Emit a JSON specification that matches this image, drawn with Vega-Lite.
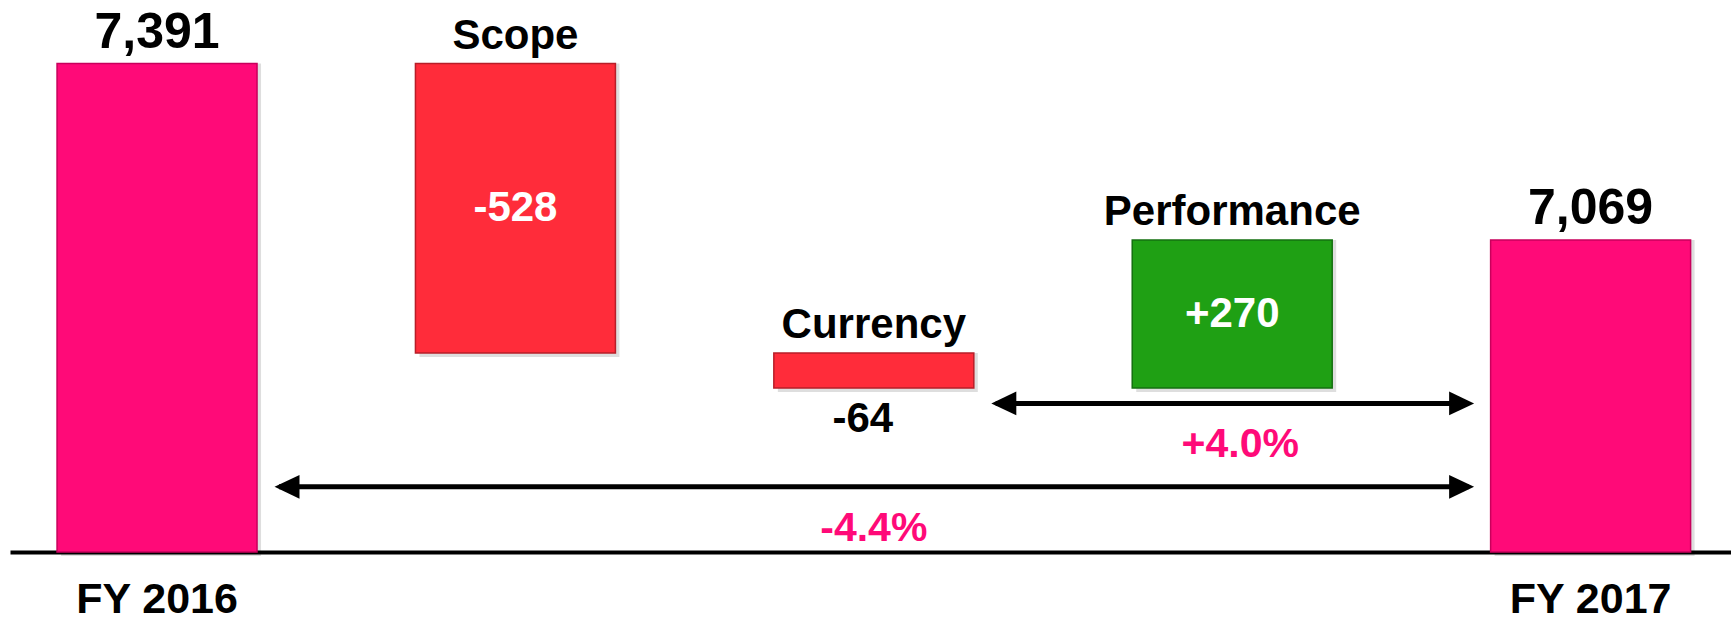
{
  "$schema": "https://vega.github.io/schema/vega-lite/v6.json",
  "width": 1731,
  "height": 552,
  "autosize": "none",
  "padding": {"left": 0, "top": 0, "right": 0, "bottom": 68},
  "background": "white",
  "config": {
    "view": {"stroke": null},
    "font": "Liberation Sans",
    "axisX": {"title": null, "ticks": false, "tickSize": 0, "domainColor": "#000000", "domainWidth": 4, "labelAngle": 0,
      "labelFont": "Liberation Sans", "labelFontSize": 43, "labelFontWeight": "bold", "labelColor": "#000000", "labelPadding": 26, "grid": false}
  },
  "datasets": {
    "bars": [
      {"cat": "FY 2016", "lo": 6500, "hi": 7391, "type": "total", "label": "7,391"},
      {"cat": "Scope", "lo": 6863, "hi": 7391, "type": "neg", "label": "-528"},
      {"cat": "Currency", "lo": 6799, "hi": 6863, "type": "neg", "label": "-64"},
      {"cat": "Performance", "lo": 6799, "hi": 7069, "type": "pos", "label": "+270"},
      {"cat": "FY 2017", "lo": 6500, "hi": 7069, "type": "total", "label": "7,069"}
    ],
    "arrows": [
      {"from": "FY 2016", "to": "FY 2017", "level": 6619},
      {"from": "Currency", "to": "FY 2017", "level": 6771}
    ],
    "pcts": [
      {"cat": "Currency", "pct": "-4.4%", "level": 6520},
      {"cat": "Performance", "pct": "+4.0%", "level": 6673}
    ]
  },
  "layer": [
    {
      "data": {"name": "bars"},
      "mark": {"type": "bar", "color": "#000000", "opacity": 0.13, "xOffset": 4, "yOffset": 4},
      "encoding": {
        "x": {"field": "cat", "type": "nominal", "sort": null, "title": null,
          "scale": {"domain": ["FY 2016", "Scope", "Currency", "Performance", "FY 2017"], "range": [10, 1731], "paddingInner": 0.442, "paddingOuter": 0.122, "align": 0.538},
          "axis": {"labelExpr": "indexof(['FY 2016','FY 2017'], datum.value) >= 0 ? datum.label : ''"}},
        "y": {"field": "lo", "type": "quantitative", "scale": {"domain": [6500, 7507], "zero": false, "nice": false}, "axis": null},
        "y2": {"field": "hi"}
      }
    },
    {
      "data": {"name": "bars"},
      "mark": {"type": "bar", "strokeWidth": 1.5},
      "encoding": {
        "x": {"field": "cat", "type": "nominal", "sort": null, "title": null, "axis": {"labelExpr": "indexof(['FY 2016','FY 2017'], datum.value) >= 0 ? datum.label : ''"}},
        "y": {"field": "lo", "type": "quantitative", "axis": null},
        "y2": {"field": "hi"},
        "color": {"field": "type", "type": "nominal", "legend": null,
          "scale": {"domain": ["total", "neg", "pos"], "range": ["#FF0A78", "#FF2C3A", "#1FA014"]}},
        "stroke": {"field": "type", "type": "nominal", "legend": null,
          "scale": {"domain": ["total", "neg", "pos"], "range": ["#C8005C", "#B81E28", "#147010"]}}
      }
    },
    {
      "data": {"name": "bars"},
      "transform": [{"filter": "datum.type == 'total'"}],
      "mark": {"type": "text", "font": "Liberation Sans", "fontWeight": "bold", "fontSize": 50, "baseline": "alphabetic", "dy": -16, "color": "#000000"},
      "encoding": {
        "x": {"field": "cat", "type": "nominal", "sort": null, "title": null, "axis": {"labelExpr": "indexof(['FY 2016','FY 2017'], datum.value) >= 0 ? datum.label : ''"}},
        "y": {"field": "hi", "type": "quantitative", "axis": null},
        "text": {"field": "label"}
      }
    },
    {
      "data": {"name": "bars"},
      "transform": [{"filter": "datum.type != 'total'"}],
      "mark": {"type": "text", "font": "Liberation Sans", "fontWeight": "bold", "fontSize": 42, "baseline": "alphabetic", "dy": -15, "color": "#000000"},
      "encoding": {
        "x": {"field": "cat", "type": "nominal", "sort": null, "title": null, "axis": {"labelExpr": "indexof(['FY 2016','FY 2017'], datum.value) >= 0 ? datum.label : ''"}},
        "y": {"field": "hi", "type": "quantitative", "axis": null},
        "text": {"field": "cat"}
      }
    },
    {
      "data": {"name": "bars"},
      "transform": [{"filter": "datum.cat == 'Scope' || datum.cat == 'Performance'"}, {"calculate": "(datum.lo + datum.hi) / 2", "as": "mid"}],
      "mark": {"type": "text", "font": "Liberation Sans", "fontWeight": "bold", "fontSize": 42, "baseline": "middle", "color": "#FFFFFF"},
      "encoding": {
        "x": {"field": "cat", "type": "nominal", "sort": null, "title": null, "axis": {"labelExpr": "indexof(['FY 2016','FY 2017'], datum.value) >= 0 ? datum.label : ''"}},
        "y": {"field": "mid", "type": "quantitative", "axis": null},
        "text": {"field": "label"}
      }
    },
    {
      "data": {"name": "bars"},
      "transform": [{"filter": "datum.cat == 'Currency'"}],
      "mark": {"type": "text", "font": "Liberation Sans", "fontWeight": "bold", "fontSize": 42, "baseline": "alphabetic", "dy": 44, "dx": -11, "color": "#000000"},
      "encoding": {
        "x": {"field": "cat", "type": "nominal", "sort": null, "title": null, "axis": {"labelExpr": "indexof(['FY 2016','FY 2017'], datum.value) >= 0 ? datum.label : ''"}},
        "y": {"field": "lo", "type": "quantitative", "axis": null},
        "text": {"field": "label"}
      }
    },
    {
      "data": {"name": "arrows"},
      "mark": {"type": "rule", "strokeWidth": 5, "color": "#000000", "xOffset": 22, "x2Offset": -22},
      "encoding": {
        "x": {"field": "from", "type": "nominal", "sort": null, "bandPosition": 1, "title": null, "axis": {"labelExpr": "indexof(['FY 2016','FY 2017'], datum.value) >= 0 ? datum.label : ''"}},
        "x2": {"field": "to", "bandPosition": 0},
        "y": {"field": "level", "type": "quantitative", "axis": null}
      }
    },
    {
      "data": {"name": "arrows"},
      "mark": {"type": "point", "shape": "M-1,0L1,-0.95L1,0.95Z", "size": 625, "filled": true, "color": "#000000", "opacity": 1, "xOffset": 30},
      "encoding": {
        "x": {"field": "from", "type": "nominal", "sort": null, "bandPosition": 1, "title": null, "axis": {"labelExpr": "indexof(['FY 2016','FY 2017'], datum.value) >= 0 ? datum.label : ''"}},
        "y": {"field": "level", "type": "quantitative", "axis": null}
      }
    },
    {
      "data": {"name": "arrows"},
      "mark": {"type": "point", "shape": "M1,0L-1,-0.95L-1,0.95Z", "size": 625, "filled": true, "color": "#000000", "opacity": 1, "xOffset": -29},
      "encoding": {
        "x": {"field": "to", "type": "nominal", "sort": null, "bandPosition": 0, "title": null, "axis": {"labelExpr": "indexof(['FY 2016','FY 2017'], datum.value) >= 0 ? datum.label : ''"}},
        "y": {"field": "level", "type": "quantitative", "axis": null}
      }
    },
    {
      "data": {"name": "pcts"},
      "transform": [{"filter": "datum.cat == 'Currency'"}],
      "mark": {"type": "text", "font": "Liberation Sans", "fontWeight": "bold", "fontSize": 41, "baseline": "alphabetic", "color": "#FF0A78"},
      "encoding": {
        "x": {"field": "cat", "type": "nominal", "sort": null, "title": null, "axis": {"labelExpr": "indexof(['FY 2016','FY 2017'], datum.value) >= 0 ? datum.label : ''"}},
        "y": {"field": "level", "type": "quantitative", "axis": null},
        "text": {"field": "pct"}
      }
    },
    {
      "data": {"name": "pcts"},
      "transform": [{"filter": "datum.cat == 'Performance'"}],
      "mark": {"type": "text", "font": "Liberation Sans", "fontWeight": "bold", "fontSize": 41, "baseline": "alphabetic", "dx": 8, "color": "#FF0A78"},
      "encoding": {
        "x": {"field": "cat", "type": "nominal", "sort": null, "title": null, "axis": {"labelExpr": "indexof(['FY 2016','FY 2017'], datum.value) >= 0 ? datum.label : ''"}},
        "y": {"field": "level", "type": "quantitative", "axis": null},
        "text": {"field": "pct"}
      }
    }
  ]
}
